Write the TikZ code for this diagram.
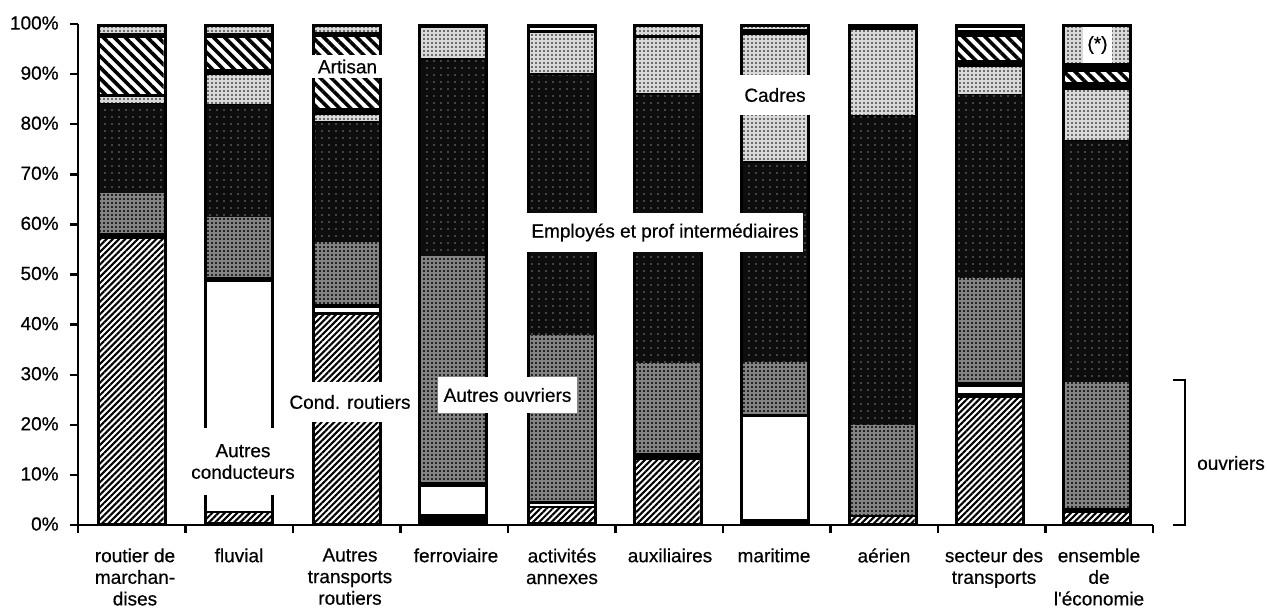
\documentclass[tikz,border=0pt]{standalone}
\usepackage{fontspec}
\setmainfont{Liberation Sans}[FakeBold=0.5]
\usetikzlibrary{patterns.meta}
\tikzset{
  x=0.5pt, y=-0.5pt,
  every node/.style={font=\fontsize{9.5}{10.8}\selectfont, inner sep=0pt},
  segC/.style={fill=white, postaction={pattern={Lines[angle=45,distance=2.2pt,line width=1.05pt]}, pattern color=black}},
  segA/.style={fill=white, postaction={pattern={Lines[angle=-45,distance=3.9pt,line width=1.8pt]}, pattern color=black}},
  segW/.style={fill=white},
  segK/.style={fill=black!48, postaction={pattern={Dots[distance=2pt,radius=0.55pt]}, pattern color=black}},
  segL/.style={fill=black!15, postaction={pattern={Dots[distance=2pt,radius=0.42pt]}, pattern color=black}},
  segD/.style={fill=black!95, postaction={pattern={Dots[distance=3.5pt,radius=0.35pt]}, pattern color=white}},
  barbox/.style={fill=black},
  lblbox/.style={fill=white, align=center},
  axisline/.style={line width=1.2pt},
}
\newcommand\barblock[1]{\fill[barbox] ({#1-35},24) rectangle ({#1+35},525);}
\newcommand\seg[4]{\fill[#4] ({#1-32},{525-5.01*#2}) rectangle ({#1+32},{525-5.01*#3});}
\begin{document}
\begin{tikzpicture}
\useasboundingbox (0,0) rectangle (1267,607);
% bar 1
\barblock{131.5}
\seg{131.5}{0.4}{57}{segC}
\seg{131.5}{58.3}{66.3}{segK}
\seg{131.5}{66.3}{84}{segD}
\seg{131.5}{84.3}{85.4}{segL}
\seg{131.5}{86}{97.3}{segA}
\seg{131.5}{98.2}{99.5}{segL}
% bar 2
\barblock{239}
\seg{239}{0.6}{2.3}{segC}
\seg{239}{2.8}{48.6}{segW}
\seg{239}{49.6}{61.5}{segK}
\seg{239}{61.5}{83.8}{segD}
\seg{239}{84.1}{89.8}{segL}
\seg{239}{91}{97.2}{segA}
\seg{239}{98.2}{99.4}{segL}
% bar 3
\barblock{347}
\seg{347}{0.4}{41.9}{segC}
\seg{347}{42.6}{43.3}{segW}
\seg{347}{44.2}{56.5}{segK}
\seg{347}{56.5}{80.3}{segD}
\seg{347}{80.6}{81.8}{segL}
\seg{347}{83.2}{97.4}{segA}
\seg{347}{98.4}{99.4}{segL}
% bar 4
\barblock{453}
\seg{453}{2.2}{7.6}{segW}
\seg{453}{8.6}{53.7}{segK}
\seg{453}{53.7}{92.8}{segD}
\seg{453}{93.3}{99.2}{segL}
% bar 5
\barblock{562}
\seg{562}{0.6}{3.4}{segC}
\seg{562}{3.8}{4.2}{segW}
\seg{562}{4.8}{38}{segK}
\seg{562}{38}{89.8}{segD}
\seg{562}{90.2}{98.2}{segL}
\seg{562}{98.9}{99.3}{segW}
% bar 6
\barblock{667.5}
\seg{667.5}{0.4}{13}{segC}
\seg{667.5}{14.3}{32.3}{segK}
\seg{667.5}{32.3}{85.8}{segD}
\seg{667.5}{86.2}{97.2}{segL}
\seg{667.5}{97.8}{99.5}{segL}
% bar 7
\barblock{775}
\seg{775}{1.3}{21.6}{segW}
\seg{775}{22.2}{32.6}{segK}
\seg{775}{32.6}{72.2}{segD}
\seg{775}{72.6}{97.8}{segL}
\seg{775}{99}{99.4}{segL}
% bar 8
\barblock{882.5}
\seg{882.5}{0.5}{1.6}{segC}
\seg{882.5}{1.9}{20}{segK}
\seg{882.5}{20}{81.5}{segD}
\seg{882.5}{81.9}{98.8}{segL}
% bar 9
\barblock{990}
\seg{990}{0.5}{25.3}{segC}
\seg{990}{26.3}{27.5}{segW}
\seg{990}{28.6}{49.3}{segK}
\seg{990}{49.3}{85.8}{segD}
\seg{990}{86.1}{91.5}{segL}
\seg{990}{92.8}{97.5}{segA}
\seg{990}{98.9}{99.3}{segW}
% bar 10
\barblock{1097}
\seg{1097}{0.6}{2.3}{segC}
\seg{1097}{3.3}{28.6}{segK}
\seg{1097}{28.6}{76.6}{segD}
\seg{1097}{76.9}{86.8}{segL}
\seg{1097}{88.5}{90.5}{segA}
\seg{1097}{92.2}{99.5}{segL}
% axes
\draw[axisline] (78,24) -- (78,533);
\draw[axisline] (70,525) -- (1153,525);
\foreach \p in {0,10,...,100}{
  \draw[axisline] (70,{525-5.01*\p}) -- (78,{525-5.01*\p});
  \node[anchor=east] (yl\p) at (59,{524-5.01*\p}) {\p\%};
}
\foreach \k in {1,...,10}{
  \draw[axisline] ({78+107.5*\k},525) -- ({78+107.5*\k},533);
}
% category labels
\node[align=center, anchor=north] (c1) at (135,548) {routier de\\marchan-\\dises};
\node[align=center, anchor=north] (c2) at (239,548) {fluvial};
\node[align=center, anchor=north] (c3) at (350,548) {Autres\\transports\\routiers};
\node[align=center, anchor=north] (c4) at (456,548) {ferroviaire};
\node[align=center, anchor=north] (c5) at (562,548) {activités\\annexes};
\node[align=center, anchor=north] (c6) at (670,548) {auxiliaires};
\node[align=center, anchor=north] (c7) at (774,548) {maritime};
\node[align=center, anchor=north] (c8) at (884,548) {aérien};
\node[align=center, anchor=north] (c9) at (994,548) {secteur des\\transports};
\node[align=center, anchor=north] (c10) at (1099,548) {ensemble\\de\\l\textquotesingle économie};
% in-chart labels
\node[lblbox, minimum width=55pt, minimum height=33.5pt] (lac) at (243,461.5) {Autres\\conducteurs};
\node[lblbox, minimum width=62pt, minimum height=20pt] (lcr) at (350,402) {Cond. routiers};
\node[lblbox, minimum width=69.5pt, minimum height=18pt] (lao) at (507.5,395) {Autres ouvriers};
\node[lblbox, minimum width=138pt, minimum height=19.5pt] (lep) at (665,232.5) {Employés et prof intermédiaires};
\node[lblbox, minimum width=39pt, minimum height=20pt] (lca) at (775,95) {Cadres};
\node[lblbox, minimum width=36.5pt, minimum height=11.5pt] (lar) at (347.5,66.5) {Artisan};
\node[lblbox, minimum width=14.5pt, minimum height=18pt] (lst) at (1097.5,45) {(*)};
% bracket
\coordinate (bt) at (1173,380);
\coordinate (bb) at (1173,525);
\draw[line width=0.6pt] (bt) -- ++(12,0) |- (bb);
\node (lou) at (1231,463) {ouvriers};
\end{tikzpicture}
\end{document}
